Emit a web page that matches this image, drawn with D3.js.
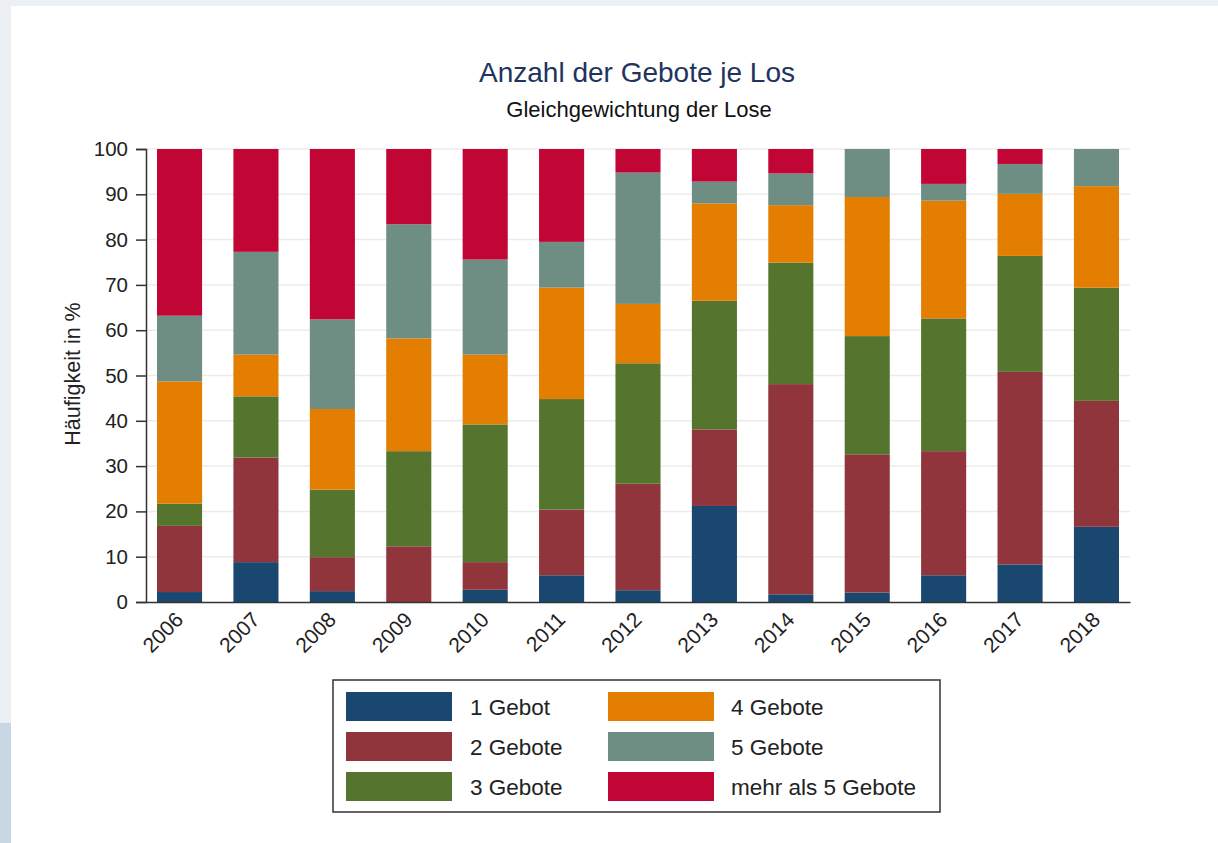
<!DOCTYPE html>
<html><head><meta charset="utf-8">
<script src="https://cdn.jsdelivr.net/npm/d3@7"></script>
<style>
html,body{margin:0;padding:0;background:#eef1f5;}
svg{display:block;font-family:"Liberation Sans",Arial,sans-serif;}
</style></head>
<body><svg id="chart" width="1218" height="843"></svg>
<script>
const years = ["2006","2007","2008","2009","2010","2011","2012","2013","2014","2015","2016","2017","2018"];
const seriesNames = ["1 Gebot","2 Gebote","3 Gebote","4 Gebote","5 Gebote","mehr als 5 Gebote"];
const gebot1 = [2.2, 8.8, 2.4, 0.0, 2.7, 5.9, 2.6, 21.2, 1.7, 2.1, 5.9, 8.3, 16.6];
const gebote2 = [14.6, 23.1, 7.5, 12.3, 6.1, 14.5, 23.5, 16.9, 46.4, 30.5, 27.4, 42.5, 27.8];
const gebote3 = [4.9, 13.5, 14.9, 21.0, 30.4, 24.4, 26.6, 28.4, 26.8, 26.1, 29.3, 25.6, 25.0];
const gebote4 = [27.0, 9.2, 17.8, 24.9, 15.4, 24.6, 13.1, 21.5, 12.7, 30.7, 26.0, 13.7, 22.4];
const gebote5 = [14.5, 22.7, 19.8, 25.2, 21.0, 10.1, 29.0, 4.8, 7.0, 10.6, 3.7, 6.6, 8.2];
const mehrAls5 = [36.8, 22.7, 37.6, 16.6, 24.4, 20.5, 5.2, 7.2, 5.4, 0.0, 7.7, 3.3, 0.0];
const yTicks = [0,10,20,30,40,50,60,70,80,90,100];
const colors = ["#1a476f","#90353b","#55752f","#e37e00","#6e8e84","#c10534"];

const seriesValues = [gebot1, gebote2, gebote3, gebote4, gebote5, mehrAls5];
const table = years.map((y,i)=>{const o={year:y}; seriesNames.forEach((s,k)=>o[s]=seriesValues[k][i]); return o;});
const stacked = d3.stack().keys(seriesNames)(table);

const FONT = "Liberation Sans, Arial, sans-serif";
const svg = d3.select("#chart");
// backdrop
svg.append("rect").attr("x",0).attr("y",0).attr("width",1218).attr("height",843).attr("fill","#eceff3");
svg.append("rect").attr("x",0).attr("y",723).attr("width",11).attr("height",120).attr("fill","#c9d6e3");
svg.append("rect").attr("x",11).attr("y",6).attr("width",1207).attr("height",837).attr("fill","#ffffff");

const x = d3.scaleBand().domain(years).range([146,1130]).paddingInner(0.41).paddingOuter(0.144);
const y = d3.scaleLinear().domain([0,100]).range([602,149]);

// grid
svg.append("g").selectAll("line").data(yTicks.filter(t=>t>0)).join("line")
  .attr("x1",146).attr("x2",1130).attr("y1",d=>y(d)).attr("y2",d=>y(d))
  .attr("stroke","#ececec").attr("stroke-width",1.5);

// bars
svg.append("g").selectAll("g").data(stacked).join("g")
  .attr("fill",(d,i)=>colors[i])
  .selectAll("rect").data(d=>d).join("rect")
  .attr("x",d=>x(d.data.year)).attr("width",x.bandwidth())
  .attr("y",d=>y(d[1])).attr("height",d=>Math.max(0,y(d[0])-y(d[1])));

// y axis
const yAxis = svg.append("g").attr("transform","translate(146,0)")
  .call(d3.axisLeft(y).tickValues(yTicks).tickSize(10).tickPadding(8));
yAxis.select(".domain").attr("stroke","#333").attr("stroke-width",1.5);
yAxis.selectAll(".tick line").attr("stroke","#333").attr("stroke-width",1.5);
yAxis.selectAll("text").attr("font-size",20.5).attr("fill","#222").attr("font-family",FONT);

// x axis
const xAxis = svg.append("g").attr("transform","translate(0,602)")
  .call(d3.axisBottom(x).tickSize(0).tickPadding(0));
xAxis.select(".domain").attr("stroke","#333").attr("stroke-width",1.5);
xAxis.selectAll("text").attr("font-size",21).attr("fill","#222")
  .attr("font-family",FONT)
  .attr("text-anchor","end").attr("dy",null).attr("y",null)
  .attr("transform","translate(5,19) rotate(-45)");

// y label
svg.append("text").attr("transform","translate(80,374) rotate(-90)")
  .attr("text-anchor","middle").attr("font-size",21.5).attr("fill","#222").text("Häufigkeit in %");

// titles
svg.append("text").attr("x",637).attr("y",82).attr("text-anchor","middle")
  .attr("font-size",28).attr("fill","#22335e").text("Anzahl der Gebote je Los");
svg.append("text").attr("x",639).attr("y",117).attr("text-anchor","middle")
  .attr("font-size",22).attr("fill","#111").text("Gleichgewichtung der Lose");

// legend
const lg = svg.append("g");
lg.append("rect").attr("x",333).attr("y",680).attr("width",607).attr("height",132)
  .attr("fill","#fff").attr("stroke","#333").attr("stroke-width",1.5);
const legendItems = lg.selectAll("g").data(seriesNames).join("g")
  .attr("transform",(d,i)=>`translate(${i<3?346:608},${692+(i%3)*40})`);
legendItems.append("rect").attr("width",106).attr("height",29).attr("fill",(d,i)=>colors[i]);
legendItems.append("text").attr("x",(d,i)=>i<3?124:123).attr("y",23).attr("font-size",22.5).attr("fill","#222").text(d=>d);
</script></body></html>
